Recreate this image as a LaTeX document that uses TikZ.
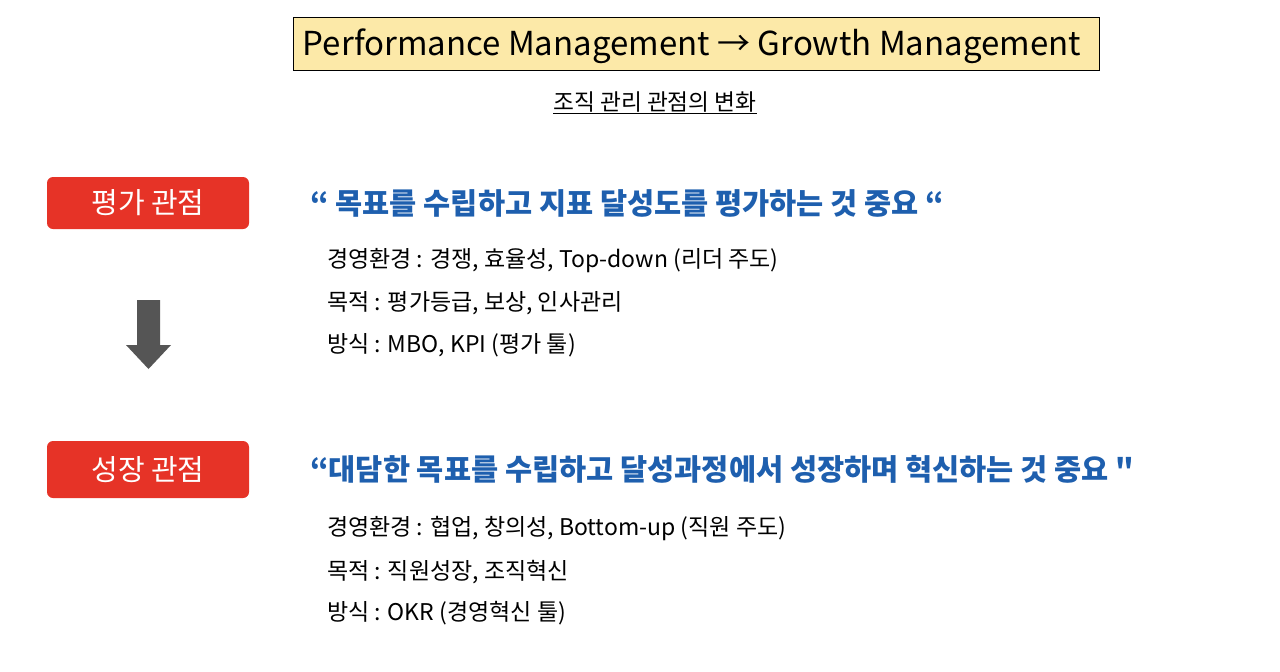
\documentclass[tikz,border=0pt]{standalone}
\usepackage{fontspec}
\setmainfont{Noto Sans CJK KR}[Ligatures=TeXOff]
\definecolor{titlebg}{HTML}{FCE9A8}
\definecolor{redbox}{HTML}{E63327}
\definecolor{quoteblue}{HTML}{1E5FAE}
\definecolor{arrowgray}{HTML}{555555}
\tikzset{
  titlebox/.style={draw=black, line width=1pt, fill=titlebg, minimum width=806pt, minimum height=53pt, inner sep=0pt},
  tagbox/.style={fill=redbox, rounded corners=6pt, minimum width=202pt, inner sep=0pt, text=white, font=\fontsize{29}{32}\selectfont},
  quote/.style={anchor=west, inner sep=0pt, text=quoteblue, font=\bfseries\fontsize{29.5}{34}\selectfont},
  body/.style={anchor=west, inner sep=0pt, font=\fontsize{23}{27}\selectfont},
}
\begin{document}
\begin{tikzpicture}[x=1pt,y=-1pt]
\useasboundingbox (0,0) rectangle (1280,672);
\node[titlebox] (title) at (696,43.5) {};
\node[inner sep=0pt, font=\fontsize{33}{38}\selectfont] (ttext) at (692,46) {Performance Management → Growth Management};
\node[inner sep=0pt, font=\fontsize{22.7}{26}\selectfont] (sub) at (655,103) {\underline{조직 관리 관점의 변화}};
\node[tagbox, minimum height=52pt] (eval) at (148,203) {평가 관점};
\node[tagbox, minimum height=57pt] (grow) at (148,469.5) {성장 관점};
\fill[arrowgray] (137,300) -- (160,300) -- (160,345) -- (171,345) -- (148.5,369) -- (126,345) -- (137,345) -- cycle;
\node[quote] (q1) at (310,203) {“ 목표를 수립하고 지표 달성도를 평가하는 것 중요 “};
\node[body] (a1) at (327,261) {경영환경 : 경쟁, 효율성, Top-down (리더 주도)};
\node[body] (a2) at (327,303) {목적 : 평가등급, 보상, 인사관리};
\node[body] (a3) at (327,345) {방식 : MBO, KPI (평가 툴)};
\node[quote] (q2) at (310,469) {“대담한 목표를 수립하고 달성과정에서 성장하며 혁신하는 것 중요 "};
\node[body] (b1) at (327,529) {경영환경 : 협업, 창의성, Bottom-up (직원 주도)};
\node[body] (b2) at (327,572) {목적 : 직원성장, 조직혁신};
\node[body] (b3) at (327,613) {방식 : OKR (경영혁신 툴)};
\end{tikzpicture}
\end{document}
